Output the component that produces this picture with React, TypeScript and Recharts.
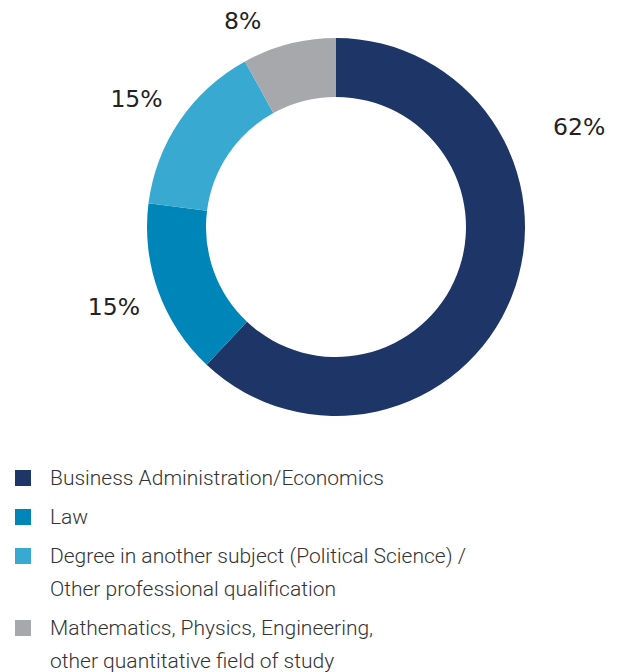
import { PieChart, Pie, Cell } from "recharts";

const categories = [
    "Business Administration/Economics",
    "Law",
    "Degree in another subject (Political Science) / Other professional qualification",
    "Mathematics, Physics, Engineering, other quantitative field of study",
];
const legendLines = [
    ["Business Administration/Economics"],
    ["Law"],
    ["Degree in another subject (Political Science) /", "Other professional qualification"],
    ["Mathematics, Physics, Engineering,", "other quantitative field of study"],
];
const shares = [62, 15, 15, 8];
const colors = ["#1e3667", "#0085b9", "#38aad2", "#a7a8ac"];

// hand-placed labels in the original: radius and angle nudge per slice
const labelRadius = [263, 236, 237, 226];
const labelShift = [44, 0, 1.5, 10];

const data = categories.map((name, i) => ({ name, value: shares[i] }));

const RAD = Math.PI / 180;

function renderLabel(props: any) {
    const { cx, cy, midAngle, index, value } = props;
    const a = (midAngle + labelShift[index]) * RAD;
    const x = cx + labelRadius[index] * Math.cos(-a);
    const y = cy + labelRadius[index] * Math.sin(-a);
    return (
        <text
            x={x}
            y={y}
            textAnchor="middle"
            dominantBaseline="central"
            fill="#222"
            fontSize={23.5}
            fontFamily="'DejaVu Sans', sans-serif"
        >
            {value}%
        </text>
    );
}

export default function App() {
    return (
        <div style={{ position: "absolute", left: 0, top: 0, width: 619, height: 672, background: "#fff" }}>
            <PieChart width={619} height={460} margin={{ top: 0, right: 0, bottom: 0, left: 0 }}>
                <Pie
                    data={data}
                    dataKey="value"
                    cx={336}
                    cy={227}
                    innerRadius={130}
                    outerRadius={189}
                    startAngle={90}
                    endAngle={-270}
                    stroke="none"
                    label={renderLabel}
                    labelLine={false}
                    isAnimationActive={false}
                >
                    {data.map((d, i) => (
                        <Cell key={d.name} fill={colors[i]} />
                    ))}
                </Pie>
            </PieChart>

            {/* Legend */}
            <div style={{ position: "absolute", left: 0, top: 461.5, fontFamily: "Roboto, sans-serif", fontWeight: 300, fontSize: 21, color: "#333" }}>
                {legendLines.map((lines, i) => (
                    <div key={i} style={{ position: "relative", paddingLeft: 50, marginBottom: 6 }}>
                        <div style={{ position: "absolute", left: 15, top: 8.5, width: 16, height: 16, background: colors[i] }} />
                        {lines.map((l) => (
                            <div key={l} style={{ lineHeight: "33px", whiteSpace: "nowrap" }}>{l}</div>
                        ))}
                    </div>
                ))}
            </div>
        </div>
    );
}
